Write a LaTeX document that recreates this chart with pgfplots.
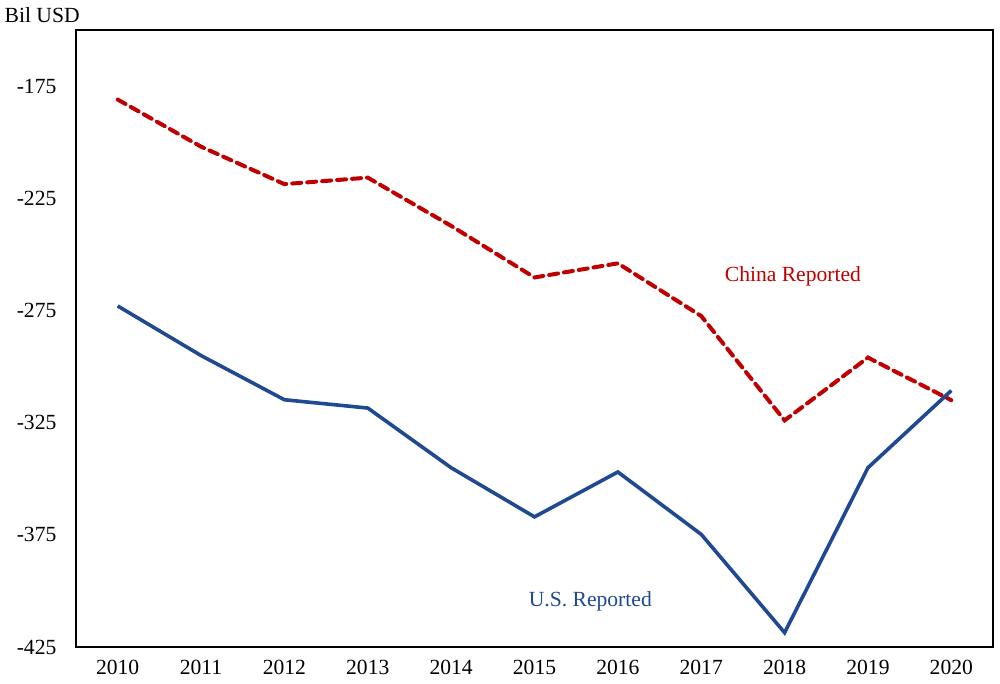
\documentclass[border=0pt]{standalone}
\usepackage{pgfplots}
\pgfplotsset{compat=1.18}
\usepackage{fontspec}
\setmainfont{Liberation Serif}
\definecolor{cnred}{RGB}{192,0,0}
\definecolor{usblue}{RGB}{31,73,145}
\begin{document}
\fontsize{10.8}{13}\selectfont
\begin{tikzpicture}
\begin{axis}[
  name=ax,
  scale only axis,
  width=458.5pt, height=308.5pt,
  xmin=2009.5, xmax=2020.5,
  ymin=-425, ymax=-150,
  xtick={2010,2011,2012,2013,2014,2015,2016,2017,2018,2019,2020},
  xticklabels={2010,2011,2012,2013,2014,2015,2016,2017,2018,2019,2020},
  ytick={-425,-375,-325,-275,-225,-175},
  yticklabels={-425,-375,-325,-275,-225,-175},
  major tick length=0pt,
  tick label style={font=\fontsize{10.8}{13}\selectfont},
  yticklabel style={xshift=-6pt},
  xticklabel style={yshift=-3pt},
  axis line style={black, line width=0.7pt},
  clip=false,
]
\addplot[cnred, line width=2pt, dash pattern=on 4.5pt off 3pt, line cap=round] coordinates {
 (2010,-181) (2011,-202) (2012,-218.7) (2013,-215.8) (2014,-237.3) (2015,-260.3)
 (2016,-254) (2017,-277.5) (2018,-324) (2019,-296) (2020,-315)
};
\addplot[usblue, line width=1.8pt] coordinates {
 (2010,-273) (2011,-295.1) (2012,-314.8) (2013,-318.5) (2014,-345.1) (2015,-367)
 (2016,-347) (2017,-374.8) (2018,-418.6) (2019,-345.1) (2020,-310.7)
};
\node[text=cnred] at (axis cs:2018.1,-260) {China Reported};
\node[text=usblue] at (axis cs:2015.67,-404.5) {U.S. Reported};
\end{axis}
\node[anchor=west] at ([shift={(-39.5pt,7.5pt)}]ax.north west) {Bil USD};
\pgfresetboundingbox
\path ([shift={(-38pt,-18.5pt)}]ax.south west) rectangle ([shift={(3.5pt,15pt)}]ax.north east);
\end{tikzpicture}
\end{document}
